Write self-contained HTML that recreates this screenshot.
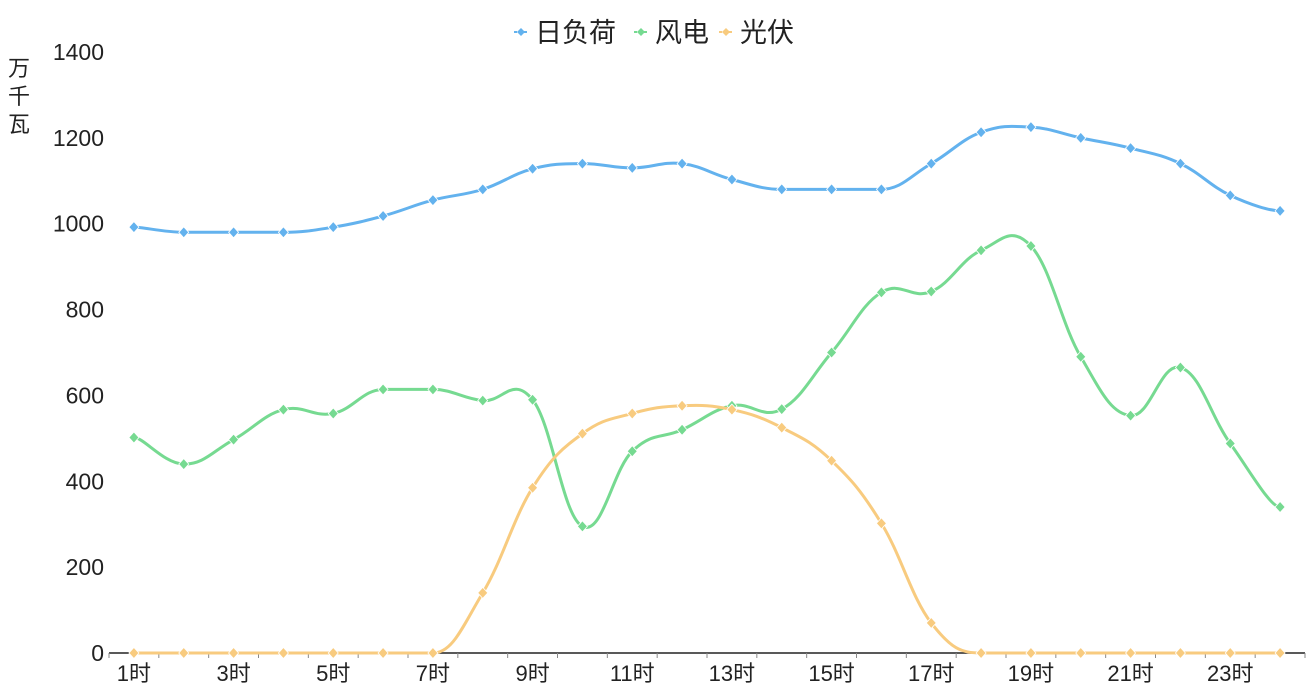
<!DOCTYPE html>
<html><head><meta charset="utf-8"><style>
html,body{margin:0;padding:0;background:#fff;width:1309px;height:698px;overflow:hidden}
text{font-family:"Liberation Sans","Noto Sans CJK SC",sans-serif}
</style></head><body>
<svg id="chart" width="1309" height="698" xmlns="http://www.w3.org/2000/svg"></svg>
<script>
const categories=["1时","2时","3时","4时","5时","6时","7时","8时","9时","10时","11时","12时","13时","14时","15时","16时","17时","18时","19时","20时","21时","22时","23时","24时"];
const loadValues=[992,980,980,980,992,1018,1055,1080,1128,1140,1130,1140,1103,1080,1080,1080,1140,1213,1225,1200,1176,1140,1066,1030];
const windValues=[502,440,497,567,558,614,614,588,590,295,470,520,576,568,700,840,842,938,948,690,553,665,488,340];
const solarValues=[0,0,0,0,0,0,0,140,385,511,558,576,567,525,448,302,70,0,0,0,0,0,0,0];
const yTicks=[0,200,400,600,800,1000,1200,1400];
const seriesNames=["日负荷","风电","光伏"];
const colors=["#63b2ee","#76da91","#f8cb7f"];

const svg=document.getElementById('chart');
const NS='http://www.w3.org/2000/svg';
const x0=109,x1=1305,y0=653,yTop=52,yMax=1400;
const bw=(x1-x0)/categories.length;
const X=i=>x0+bw*(i+0.5);
const Y=v=>y0-(v/yMax)*(y0-yTop);
function mk(tag,attrs,parent){const e=document.createElementNS(NS,tag);for(const k in attrs)e.setAttribute(k,attrs[k]);(parent||svg).appendChild(e);return e;}

yTicks.forEach(v=>{
  const t=mk('text',{x:104,y:Y(v)+8,'text-anchor':'end','font-size':23,fill:'#222'});
  t.textContent=v;
  
  
});
const yt=mk('text',{x:19,y:78,'text-anchor':'middle','font-size':22,fill:'#222'});


["万","千","瓦"].forEach((c,i)=>{const s=mk('tspan',{x:19,y:76+i*28},yt);s.textContent=c;});

categories.forEach((c,i)=>{
  if(i%2) return;
  const t=mk('text',{x:X(i),y:681,'text-anchor':'middle','font-size':22,fill:'#222'});
  t.textContent=c;
  
  
});

const ax=mk('line',{x1:x0,y1:y0,x2:x1,y2:y0,stroke:'#222','stroke-width':1.5});


for(let i=0;i<=categories.length;i++){
  const tk=mk('line',{x1:x0+bw*i,y1:y0,x2:x0+bw*i,y2:y0+5,stroke:'#888','stroke-width':1});
  
  
}

function smoothPath(pts){
  let d=`M${pts[0][0]},${pts[0][1]}`;
  const s=0.2;
  const cl=y=>Math.min(y,y0);
  for(let i=0;i<pts.length-1;i++){
    const p0=pts[i-1]||pts[i],p1=pts[i],p2=pts[i+1],p3=pts[i+2]||p2;
    let c1=[p1[0]+(p2[0]-p0[0])*s,p1[1]+(p2[1]-p0[1])*s];
    let c2=[p2[0]-(p3[0]-p1[0])*s,p2[1]-(p3[1]-p1[1])*s];
    if(p1[1]===p2[1]){c1[1]=p1[1];c2[1]=p2[1];}
    if(p1[1]===p0[1]) c1[1]=p1[1];
    if(p2[1]===p3[1]) c2[1]=p2[1];
    d+=` C${c1[0]},${cl(c1[1])} ${c2[0]},${cl(c2[1])} ${p2[0]},${p2[1]}`;
  }
  return d;
}
const allSeries=[loadValues,windValues,solarValues];
const names=['load','wind','solar'];
allSeries.forEach((vals,si)=>{
  const pts=vals.map((v,i)=>[X(i),Y(v)]);
  const p=mk('path',{d:smoothPath(pts),fill:'none',stroke:colors[si],'stroke-width':3});
  
  
  pts.forEach(([x,y])=>{
    const m=mk('path',{d:`M${x},${y-5.5}L${x+5},${y}L${x},${y+5.5}L${x-5},${y}Z`,fill:colors[si],stroke:'#fff','stroke-width':0.8});
    
    
  });
});

const legX=[514,634,719];
seriesNames.forEach((n,i)=>{
  const g=mk('g',{});
  
  
  mk('line',{x1:legX[i],y1:32,x2:legX[i]+14,y2:32,stroke:colors[i],'stroke-width':2,'stroke-dasharray':'3,2'},g);
  mk('path',{d:`M${legX[i]+7},${28}L${legX[i]+11},32L${legX[i]+7},36L${legX[i]+3},32Z`,fill:colors[i]},g);
  const t=mk('text',{x:legX[i]+21,y:42,'font-size':27,fill:'#222'},g);
  t.textContent=n;
});
</script>
</body></html>
